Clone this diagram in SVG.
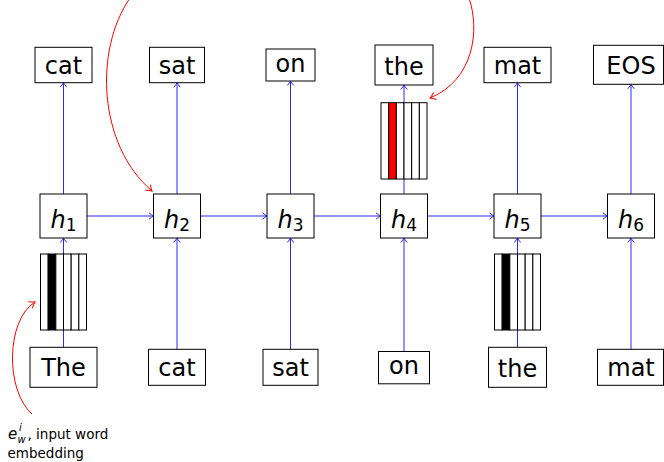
<svg xmlns="http://www.w3.org/2000/svg" width="664" height="462" viewBox="0 0 664 462">
  <style>
    .box { fill: #fff; stroke: #000; stroke-width: 1; }
    .cell { fill: #fff; stroke: #000; stroke-width: 1; }
    .lbl { font-family: "DejaVu Sans", sans-serif; font-size: 24px; text-anchor: middle; fill: #000; }
    .hl { font-family: "DejaVu Sans", sans-serif; font-size: 24px; font-style: italic; text-anchor: middle; fill: #000; }
    .sub { font-size: 17px; font-style: normal; }
    .note { font-family: "DejaVu Sans", sans-serif; font-size: 13.5px; fill: #000; }
    .flow { fill: none; stroke: #2a2aff; stroke-width: 1; marker-end: url(#tipBlue); }
    .callout { fill: none; stroke: #ff0000; stroke-width: 1; marker-end: url(#tipRed); }
  </style>
  <defs>
    <marker id="tipBlue" markerUnits="userSpaceOnUse" markerWidth="10" markerHeight="10" refX="0" refY="0" orient="auto" overflow="visible">
      <path d="M-4.5,-3.2 Q-1.5,-0.7 0,0 Q-1.5,0.7 -4.5,3.2" fill="none" stroke="#2a2aff" stroke-width="1"/>
    </marker>
    <marker id="tipRed" markerUnits="userSpaceOnUse" markerWidth="10" markerHeight="10" refX="0" refY="0" orient="auto" overflow="visible">
      <path d="M-5.5,-3.8 Q-1.8,-0.8 0,0 Q-1.8,0.8 -5.5,3.8" fill="none" stroke="#ff0000" stroke-width="1"/>
    </marker>
  </defs>
  <rect width="664" height="462" fill="#fff"/>

  <!-- connectors: inputs -> hidden states, hidden -> hidden, hidden -> outputs -->
  <g id="connectors">
    <path class="flow" d="M63.5,347.3 V238"/>
    <path class="flow" d="M177,349.3 V238"/>
    <path class="flow" d="M290.5,349.3 V238"/>
    <path class="flow" d="M404,351.5 V238"/>
    <path class="flow" d="M517.5,347.3 V238"/>
    <path class="flow" d="M631,349.3 V238"/>

    <path class="flow" d="M87,216 H153.5"/>
    <path class="flow" d="M200.5,216 H267"/>
    <path class="flow" d="M314,216 H380.5"/>
    <path class="flow" d="M427.5,216 H494"/>
    <path class="flow" d="M541,216 H607.5"/>

    <path class="flow" d="M63.5,194 V82.7"/>
    <path class="flow" d="M177,194 V82.7"/>
    <path class="flow" d="M290.5,194 V81"/>
    <path class="flow" d="M404,194 V85"/>
    <path class="flow" d="M517.5,194 V82.7"/>
    <path class="flow" d="M631,194 V84.3"/>
  </g>

  <!-- output words -->
  <g id="out1"><rect class="box" x="35" y="47.3" width="57" height="35.4"/><text class="lbl" x="63.5" y="73.5">cat</text></g>
  <g id="out2"><rect class="box" x="149.5" y="47.3" width="55" height="35.4"/><text class="lbl" x="177" y="73.5">sat</text></g>
  <g id="out3"><rect class="box" x="266" y="49" width="49" height="32"/><text class="lbl" x="290.5" y="71.5">on</text></g>
  <g id="out4"><rect class="box" x="375" y="45" width="58" height="40"/><text class="lbl" x="404" y="74.5">the</text></g>
  <g id="out5"><rect class="box" x="484" y="47.3" width="67" height="35.4"/><text class="lbl" x="517.5" y="73.5">mat</text></g>
  <g id="out6"><rect class="box" x="593.5" y="45.3" width="70" height="39"/><text class="lbl" x="631" y="73.8">EOS</text></g>

  <!-- hidden states -->
  <g id="h1"><rect class="box" x="40" y="194" width="47" height="44"/><text class="hl" x="63.5" y="227.5">h<tspan class="sub" dy="3">1</tspan></text></g>
  <g id="h2"><rect class="box" x="153.5" y="194" width="47" height="44"/><text class="hl" x="177" y="227.5">h<tspan class="sub" dy="3">2</tspan></text></g>
  <g id="h3"><rect class="box" x="267" y="194" width="47" height="44"/><text class="hl" x="290.5" y="227.5">h<tspan class="sub" dy="3">3</tspan></text></g>
  <g id="h4"><rect class="box" x="380.5" y="194" width="47" height="44"/><text class="hl" x="404" y="227.5">h<tspan class="sub" dy="3">4</tspan></text></g>
  <g id="h5"><rect class="box" x="494" y="194" width="47" height="44"/><text class="hl" x="517.5" y="227.5">h<tspan class="sub" dy="3">5</tspan></text></g>
  <g id="h6"><rect class="box" x="607.5" y="194" width="47" height="44"/><text class="hl" x="631" y="227.5">h<tspan class="sub" dy="3">6</tspan></text></g>

  <!-- input words -->
  <g id="in1"><rect class="box" x="30" y="347.3" width="67" height="40"/><text class="lbl" x="63.5" y="376">The</text></g>
  <g id="in2"><rect class="box" x="148.5" y="349.3" width="57" height="36"/><text class="lbl" x="177" y="375.5">cat</text></g>
  <g id="in3"><rect class="box" x="263" y="349.3" width="55" height="36"/><text class="lbl" x="290.5" y="375.5">sat</text></g>
  <g id="in4"><rect class="box" x="378.5" y="351.5" width="51" height="32.3"/><text class="lbl" x="404" y="373.5">on</text></g>
  <g id="in5"><rect class="box" x="488.5" y="347.3" width="58" height="40"/><text class="lbl" x="517.5" y="376.5">the</text></g>
  <g id="in6"><rect class="box" x="597.5" y="349.3" width="66" height="36"/><text class="lbl" x="631" y="375.5">mat</text></g>

  <!-- one-hot style vectors: six cells, one filled -->
  <g id="vec1">
    <rect class="cell" x="40.5" y="254" width="7.67" height="76"/>
    <rect class="cell" x="48.17" y="254" width="7.67" height="76" style="fill:#000"/>
    <rect class="cell" x="55.83" y="254" width="7.67" height="76"/>
    <rect class="cell" x="63.5" y="254" width="7.67" height="76"/>
    <rect class="cell" x="71.17" y="254" width="7.67" height="76"/>
    <rect class="cell" x="78.83" y="254" width="7.67" height="76"/>
  </g>
  <g id="vec4">
    <rect class="cell" x="381" y="102.7" width="7.67" height="76.3"/>
    <rect class="cell" x="388.67" y="102.7" width="7.67" height="76.3" style="fill:#ff0000"/>
    <rect class="cell" x="396.33" y="102.7" width="7.67" height="76.3"/>
    <rect class="cell" x="404" y="102.7" width="7.67" height="76.3"/>
    <rect class="cell" x="411.67" y="102.7" width="7.67" height="76.3"/>
    <rect class="cell" x="419.33" y="102.7" width="7.67" height="76.3"/>
  </g>
  <g id="vec5">
    <rect class="cell" x="494.5" y="254" width="7.67" height="76"/>
    <rect class="cell" x="502.17" y="254" width="7.67" height="76" style="fill:#000"/>
    <rect class="cell" x="509.83" y="254" width="7.67" height="76"/>
    <rect class="cell" x="517.5" y="254" width="7.67" height="76"/>
    <rect class="cell" x="525.17" y="254" width="7.67" height="76"/>
    <rect class="cell" x="532.83" y="254" width="7.67" height="76"/>
  </g>

  <!-- red callout arrows -->
  <g id="callouts">
    <path class="callout" d="M130,-2 C94,50 98,145 152,191"/>
    <path class="callout" d="M469,-2 C480,30 474,80 430,98"/>
    <path class="callout" d="M32,414 C5,390 6,320 35,302"/>
  </g>

  <!-- embedding note: e with subscript w and superscript i -->
  <g id="note">
    <text class="note" x="8" y="439" font-style="italic" style="font-size:15px">e</text>
    <text class="note" x="17.5" y="442.5" font-style="italic" style="font-size:10px">w</text>
    <text class="note" x="19" y="431" font-style="italic" style="font-size:10px">i</text>
    <text class="note" x="27.5" y="439">, input word</text>
    <text class="note" x="7.5" y="457.5">embedding</text>
  </g>
</svg>
